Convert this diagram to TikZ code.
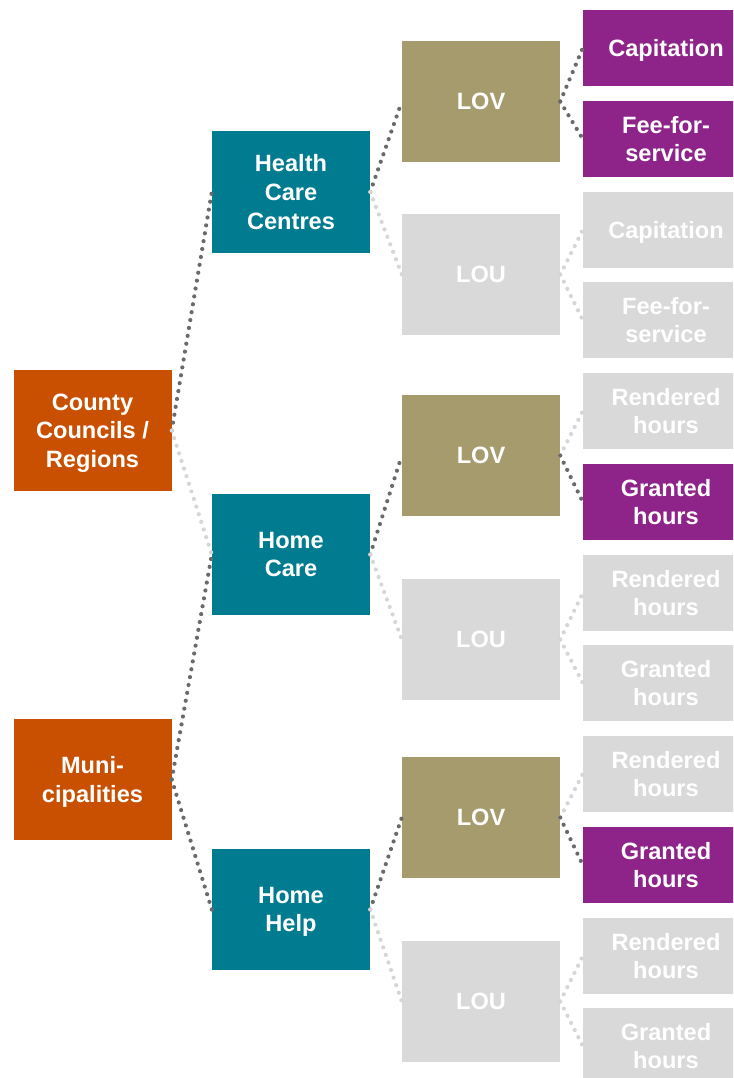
\documentclass[tikz,border=0pt]{standalone}
\usepackage{fontspec}
\setmainfont{Liberation Sans}
\definecolor{corange}{HTML}{C85000}
\definecolor{cteal}{HTML}{007B8F}
\definecolor{colive}{HTML}{A59B6D}
\definecolor{cpurple}{HTML}{8E2389}
\definecolor{cgrey}{HTML}{D9D9D9}
\definecolor{cdark}{HTML}{6A6A6A}
\definecolor{clight}{HTML}{D6D6D6}
\tikzset{
  box/.style={rectangle, inner sep=0pt, text=white, align=center, text depth=0pt,
    font=\fontsize{23.6}{28.7}\selectfont\bfseries},
  bigbox/.style={box, minimum width=158pt, minimum height=121pt},
  smallbox/.style={box, minimum width=166pt, minimum height=76pt},
  dk/.style={draw=cdark, line width=4.2pt, line cap=round, dash pattern=on 0pt off 8pt},
  lt/.style={draw=clight, line width=4.2pt, line cap=round, dash pattern=on 0pt off 8pt},
}
\begin{document}
\begin{tikzpicture}[x=1pt,y=-1pt]
\useasboundingbox (0,0) rectangle (733,1078);
\clip (0,0) rectangle (733,1078);
% level 1
\node[bigbox, fill=corange] (cc) at (92.5,430.5) {County\\Councils /\\Regions};
\node[bigbox, fill=corange] (mu) at (92.5,779.5) {Muni-\\cipalities};
% level 2
\node[bigbox, fill=cteal] (hcc) at (291,192) {Health\\Care\\Centres};
\node[bigbox, fill=cteal] (hc) at (291,554.5) {Home\\Care};
\node[bigbox, fill=cteal] (hh) at (291,909.5) {Home\\Help};
% level 3
\node[bigbox, fill=colive] (lov1) at (481,101.5) {LOV};
\node[bigbox, fill=cgrey] (lou1) at (481,274.5) {LOU};
\node[bigbox, fill=colive] (lov2) at (481,455.5) {LOV};
\node[bigbox, fill=cgrey] (lou2) at (481,639.5) {LOU};
\node[bigbox, fill=colive] (lov3) at (481,817.5) {LOV};
\node[bigbox, fill=cgrey] (lou3) at (481,1001.5) {LOU};
% level 4
\node[smallbox, fill=cpurple] (a1) at (666,48) {Capitation};
\node[smallbox, fill=cpurple] (a2) at (666,139) {Fee-for-\\service};
\node[smallbox, fill=cgrey] (b1) at (666,230) {Capitation};
\node[smallbox, fill=cgrey] (b2) at (666,320) {Fee-for-\\service};
\node[smallbox, fill=cgrey] (c1) at (666,411) {Rendered\\hours};
\node[smallbox, fill=cpurple] (c2) at (666,502) {Granted\\hours};
\node[smallbox, fill=cgrey] (d1) at (666,593) {Rendered\\hours};
\node[smallbox, fill=cgrey] (d2) at (666,683) {Granted\\hours};
\node[smallbox, fill=cgrey] (e1) at (666,774) {Rendered\\hours};
\node[smallbox, fill=cpurple] (e2) at (666,865) {Granted\\hours};
\node[smallbox, fill=cgrey] (f1) at (666,956) {Rendered\\hours};
\node[smallbox, fill=cgrey] (f2) at (666,1046) {Granted\\hours};
% connectors
\draw[dk] (cc.east) -- (hcc.west);
\draw[lt] (cc.east) -- (hc.west);
\draw[dk] (mu.east) -- (hc.west);
\draw[dk] (mu.east) -- (hh.west);
\draw[dk] (hcc.east) -- (lov1.west);
\draw[lt] (hcc.east) -- (lou1.west);
\draw[dk] (hc.east) -- (lov2.west);
\draw[lt] (hc.east) -- (lou2.west);
\draw[dk] (hh.east) -- (lov3.west);
\draw[lt] (hh.east) -- (lou3.west);
\draw[dk] (lov1.east) -- (a1.west);
\draw[dk] (lov1.east) -- (a2.west);
\draw[lt] (lou1.east) -- (b1.west);
\draw[lt] (lou1.east) -- (b2.west);
\draw[lt] (lov2.east) -- (c1.west);
\draw[dk] (lov2.east) -- (c2.west);
\draw[lt] (lou2.east) -- (d1.west);
\draw[lt] (lou2.east) -- (d2.west);
\draw[lt] (lov3.east) -- (e1.west);
\draw[dk] (lov3.east) -- (e2.west);
\draw[lt] (lou3.east) -- (f1.west);
\draw[lt] (lou3.east) -- (f2.west);
\end{tikzpicture}
\end{document}
